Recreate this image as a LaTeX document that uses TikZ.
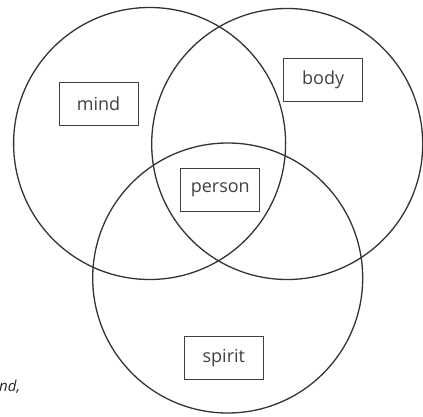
\documentclass[tikz,border=0pt]{standalone}
\usepackage{fontspec}
\setmainfont{Open Sans}
\begin{document}
\begin{tikzpicture}[x=1pt,y=-1pt,
  ring/.style={draw=black!80, line width=1.3pt},
  lbl/.style={draw=black!75, line width=0.9pt, minimum width=79pt, minimum height=43pt, inner sep=0pt, text=black!75, font=\fontsize{18}{20}\selectfont}]
\useasboundingbox (0,0) rectangle (423,417);
\node[circle, ring, minimum size=272pt, inner sep=0pt] (cmind) at (149.6,143.5) {};
\node[circle, ring, minimum size=271pt, inner sep=0pt] (cbody) at (287.2,144) {};
\node[circle, ring, minimum size=270pt, inner sep=0pt] (cspirit) at (227.7,278) {};
\node[lbl] (mind) at (98.5,103.5) {mind};
\node[lbl] (body) at (323.2,80) {body};
\node[lbl] (person) at (220.3,190.2) {person};
\node[lbl] (spirit) at (223.8,358.2) {spirit};
\node[anchor=base west, inner sep=0pt, text=black!85, font=\fontsize{15}{17}\selectfont\itshape] (cap) at (-1,391) {nd,};
\end{tikzpicture}
\end{document}
